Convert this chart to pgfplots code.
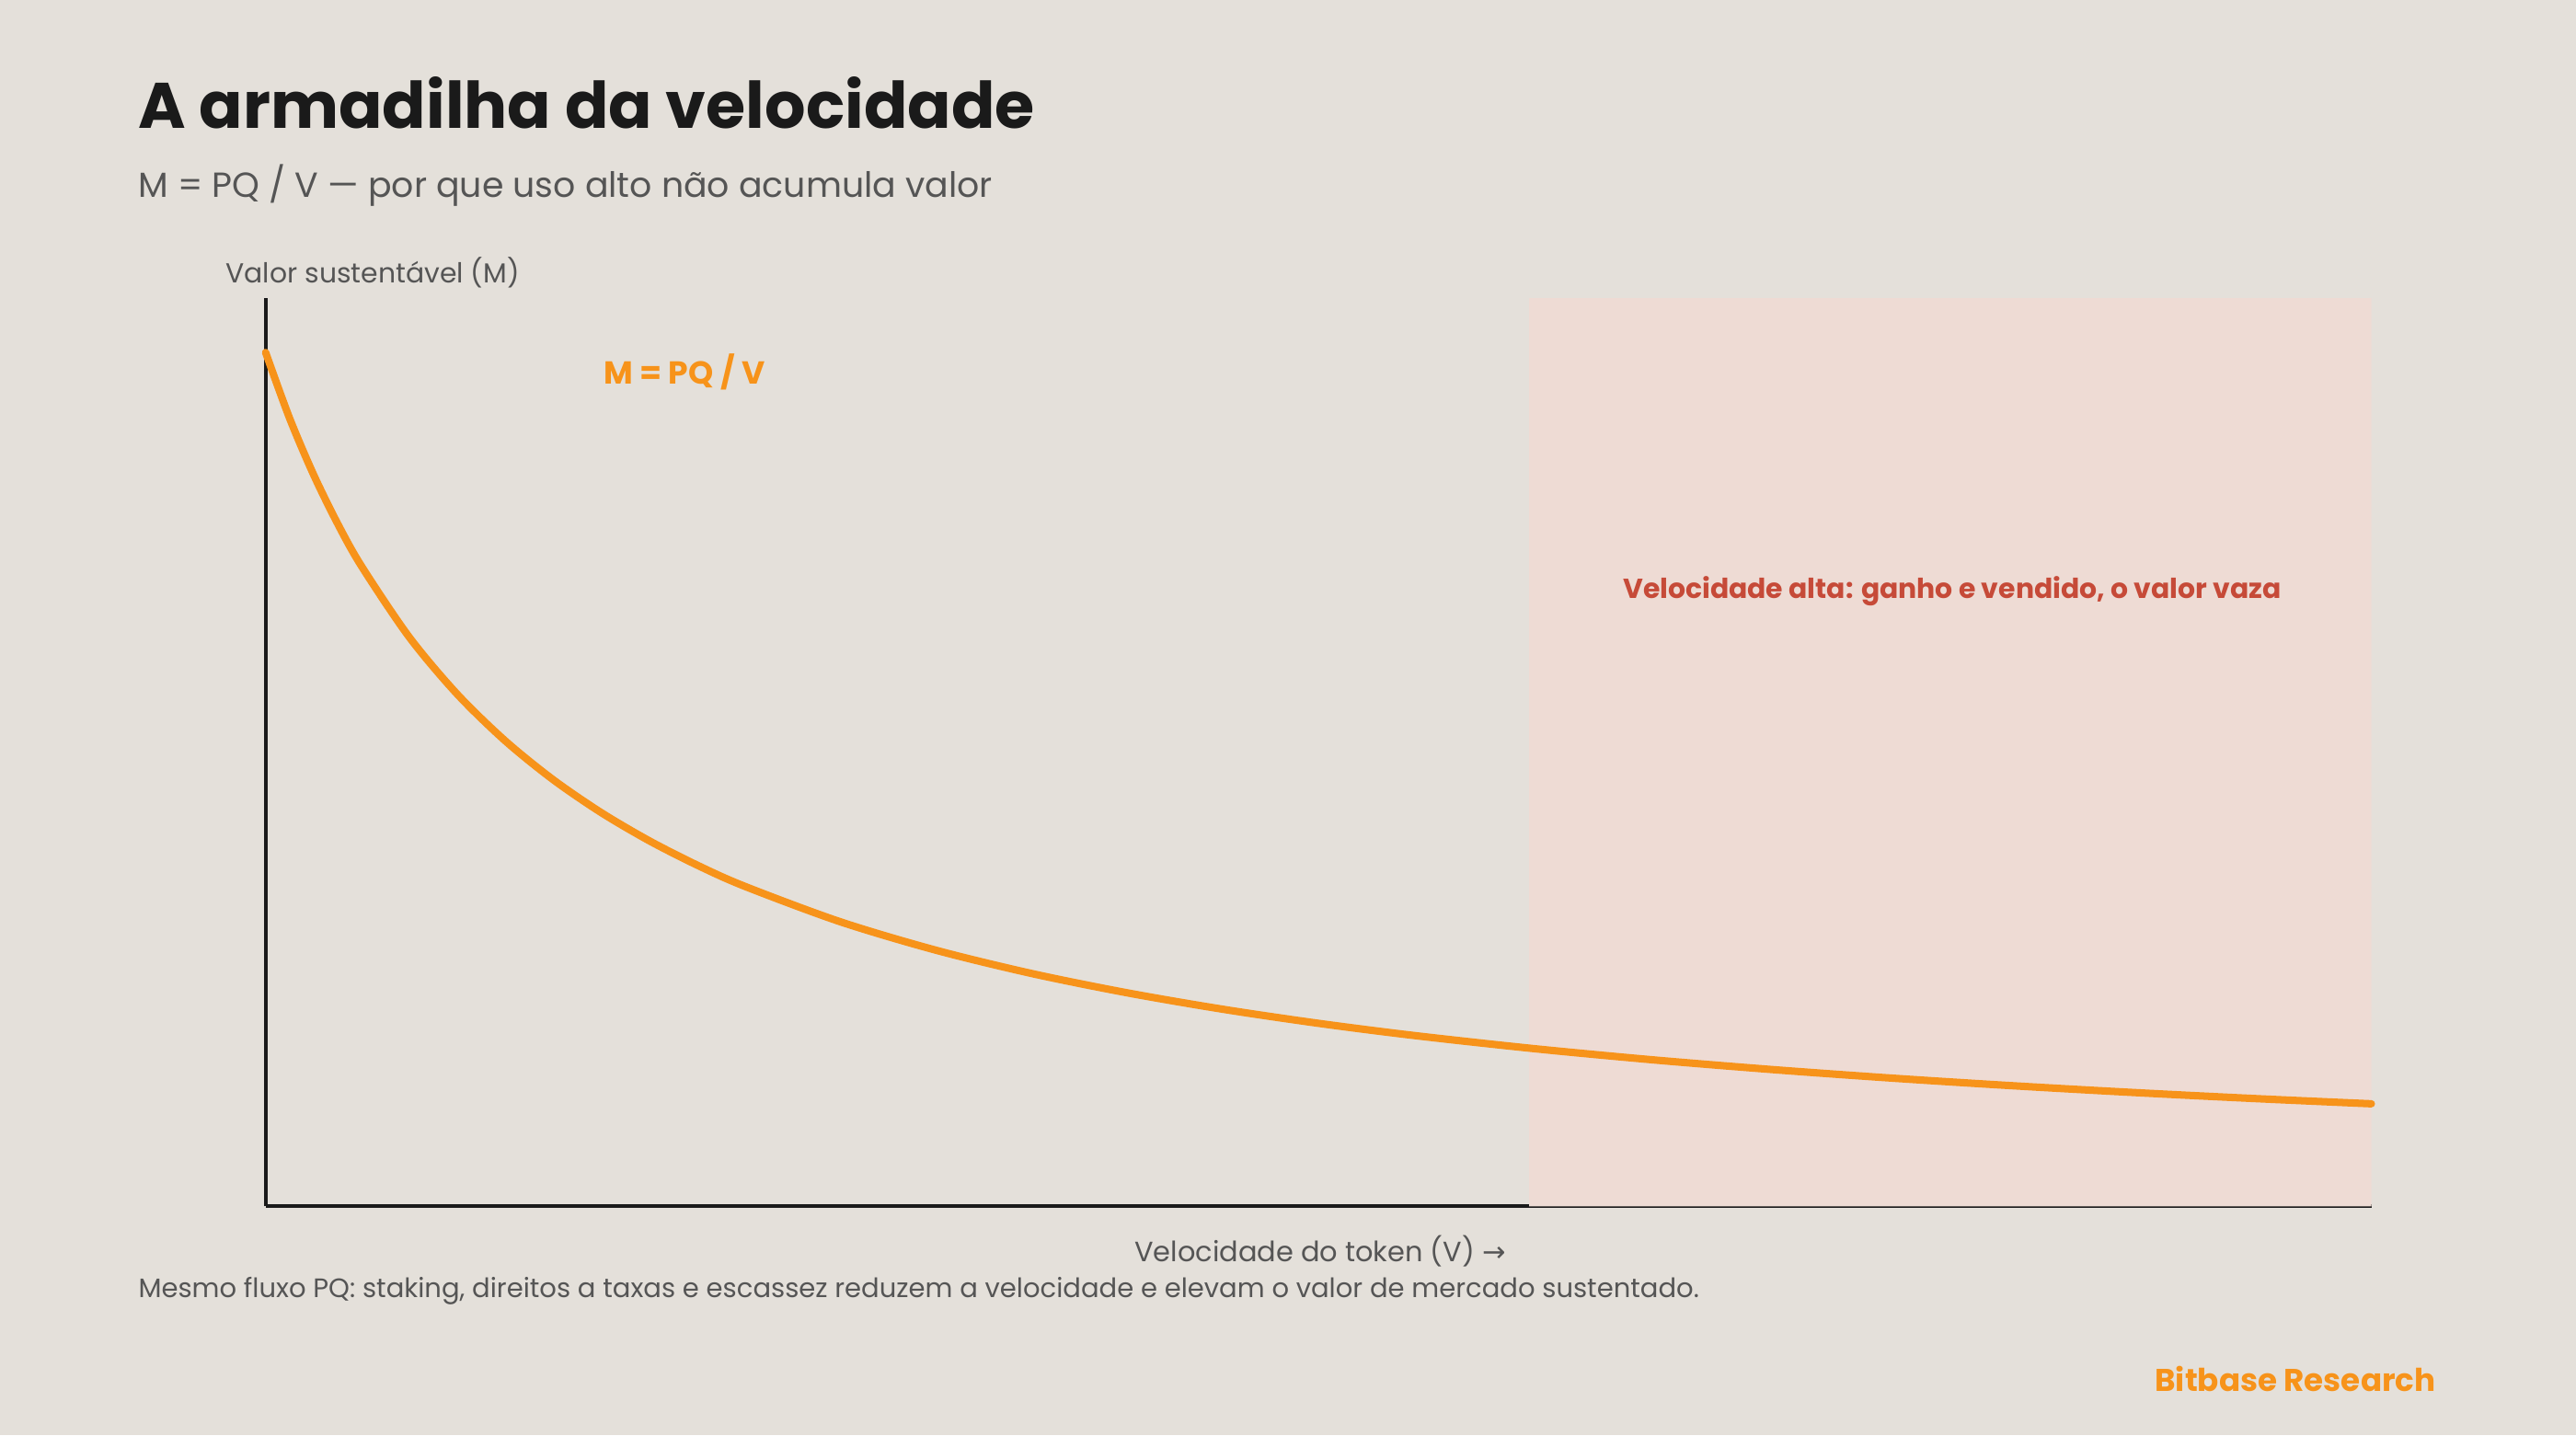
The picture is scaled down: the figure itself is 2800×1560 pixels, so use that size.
\documentclass[border=0pt]{standalone}
\usepackage{fontspec}
\setmainfont{Poppins}
\newfontfamily\dejavu{DejaVu Sans}
\usepackage{pgfplots}
\pgfplotsset{compat=1.18}

\definecolor{bg}{HTML}{E4E0DA}
\definecolor{zone}{HTML}{EEDBD4}
\definecolor{btc}{HTML}{F7931A}
\definecolor{ink}{HTML}{1A1A1A}
\definecolor{muted}{HTML}{555555}
\definecolor{warn}{HTML}{C64A38}

\begin{document}
\begin{tikzpicture}[x=0.005in,y=0.005in]
\fill[bg] (0,0) rectangle (2800,1560);
\useasboundingbox (0,0) rectangle (2800,1560);

\begin{axis}[
    at={(1.445in,1.245in)},
    anchor=south west,
    scale only axis,
    width=11.455in,
    height=4.94in,
    xmin=0.6, xmax=5,
    ymin=0, ymax=1.7726,
    axis x line*=bottom,
    axis y line*=left,
    axis line style={-, ink, line width=1.4pt},
    xtick=\empty, ytick=\empty,
    clip=false,
]
% high-velocity zone
\addplot[fill=zone, draw=none] coordinates {(3.24,0) (5,0) (5,1.7726) (3.24,1.7726)} \closedcycle;
% M = PQ / V
\addplot[btc, line width=2.9pt, smooth, line cap=round] table {
V M
0.60 1.6667
0.65 1.5385
0.70 1.4286
0.75 1.3333
0.80 1.2500
0.90 1.1111
1.00 1.0000
1.10 0.9091
1.20 0.8333
1.30 0.7692
1.40 0.7143
1.50 0.6667
1.60 0.6250
1.80 0.5556
2.00 0.5000
2.20 0.4545
2.40 0.4167
2.60 0.3846
2.80 0.3571
3.00 0.3333
3.25 0.3077
3.50 0.2857
3.75 0.2667
4.00 0.2500
4.25 0.2353
4.50 0.2222
4.75 0.2105
5.00 0.2000
};
\end{axis}

\node[anchor=base west, inner sep=0, text=ink, font=\fontsize{25.3}{29}\selectfont\bfseries] at (150,1420) {A armadilha da velocidade};
\node[anchor=base west, inner sep=0, text=muted, font=\fontsize{13.7}{16}\selectfont] at (150,1345) {M = PQ / V — por que uso alto não acumula valor};
\node[anchor=base west, inner sep=0, text=muted, font=\fontsize{10.8}{13}\selectfont] at (245,1252) {Valor sustentável (M)};
\node[anchor=base west, inner sep=0, text=btc, font=\fontsize{12.5}{15}\selectfont\bfseries] at (656,1143) {M = PQ / V};
\node[anchor=base, inner sep=0, text=warn, font=\fontsize{10.8}{13}\selectfont\bfseries] at (2122,910) {Velocidade alta: ganho e vendido, o valor vaza};
\node[anchor=base, inner sep=0, text=muted, font=\fontsize{11}{13}\selectfont] at (1435,189) {Velocidade do token (V) {\dejavu →}};
\node[anchor=base west, inner sep=0, text=muted, font=\fontsize{10.5}{12}\selectfont] at (150,150) {Mesmo fluxo PQ: staking, direitos a taxas e escassez reduzem a velocidade e elevam o valor de mercado sustentado.};
\node[anchor=base east, inner sep=0, text=btc, font=\fontsize{12.35}{14}\selectfont\bfseries] at (2648,48) {Bitbase Research};
\end{tikzpicture}
\end{document}
